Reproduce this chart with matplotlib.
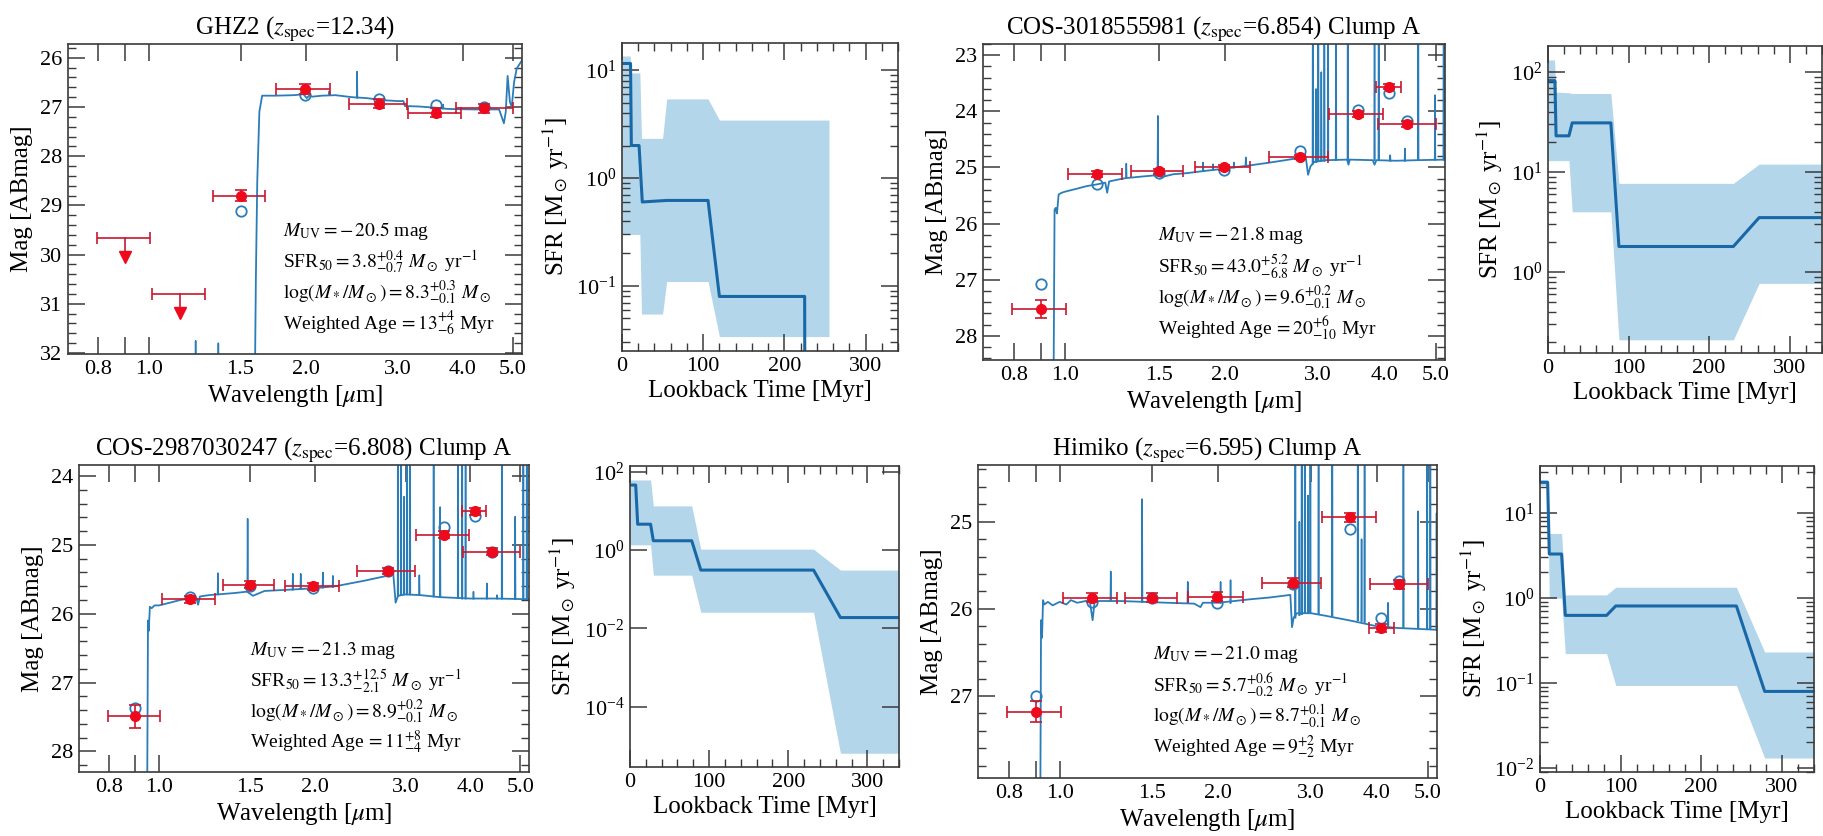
import numpy as np
import matplotlib
matplotlib.use('Agg')
import matplotlib.pyplot as plt
from matplotlib.ticker import FixedLocator, NullLocator, MultipleLocator, LogLocator, FixedFormatter, NullFormatter

plt.rcParams['font.family'] = ['Liberation Serif', 'DejaVu Serif']
plt.rcParams['mathtext.fontset'] = 'stix'
plt.rcParams['axes.edgecolor'] = '#3a3a3a'
plt.rcParams['axes.linewidth'] = 1.2

# ---------------- data ----------------
filt_wl = [0.90, 1.15, 1.50, 1.99, 2.77, 3.56, 4.08, 4.40]
filt_lo = [0.795, 1.013, 1.331, 1.755, 2.42, 3.14, 3.86, 3.88]
filt_hi = [1.005, 1.282, 1.668, 2.226, 3.13, 3.98, 4.30, 4.99]
sed_xticks = [0.8, 0.9, 1.0, 1.5, 2.0, 3.0, 4.0, 5.0]
sed_xticklabels = ['0.8', '', '1.0', '1.5', '2.0', '3.0', '4.0', '5.0']

# GHZ2
ghz2_title = r"GHZ2 ($z_{\rm spec}$=12.34)"
ghz2_obs = [29.67, 30.80, 28.80, 26.63, 26.93, 27.12, np.nan, 27.03]
ghz2_err = [0.0, 0.0, 0.12, 0.10, 0.09, 0.09, np.nan, 0.09]
ghz2_ulim = [1, 1, 0, 0, 0, 0, 0, 0]
ghz2_model = [np.nan, np.nan, 29.12, 26.76, 26.84, 26.95, np.nan, 27.00]
ghz2_cont_wl = [0.70, 1.595, 1.605, 1.615, 1.63, 1.65, 1.75, 1.90, 1.98, 2.01, 2.03, 2.06, 2.15, 2.28,
                2.45, 2.62, 2.80, 3.00, 3.08, 3.10, 3.30, 3.60, 3.75, 4.20, 4.70, 4.80, 4.84, 4.88,
                4.93, 4.97, 5.02, 5.08, 5.20]
ghz2_cont_mag = [33.5, 33.5, 30.5, 28.5, 27.1, 26.77, 26.77, 26.76, 26.74, 26.82, 26.77, 26.79, 26.77, 26.76,
                 26.80, 26.82, 26.86, 26.88, 26.88, 26.98, 26.99, 27.02, 27.04, 27.05, 27.05, 27.33, 27.1, 26.37,
                 26.9, 27.0, 26.5, 26.22, 26.05]
ghz2_line_wl = [1.23, 1.36, 2.22, 2.51, 3.67]
ghz2_line_peak = [31.75, 31.8, 26.68, 26.28, 26.95]
ghz2_line_base = [33.5, 33.5, 26.76, 26.81, 27.03]
ghz2_stats = [r"$M_{\rm UV}=-\,20.5$ mag",
              r"SFR$_{50}=3.8^{+0.4}_{-0.7}\ M_\odot$ yr$^{-1}$",
              r"$\log(M_*/M_\odot)=8.3^{+0.3}_{-0.1}\ M_\odot$",
              r"Weighted Age$\,=13^{+4}_{-6}$ Myr"]
ghz2_sfh_t = [0, 10.5, 11.5, 21, 25, 55, 106, 120, 225, 225.5]
ghz2_sfh_med = [11.5, 11.5, 2.0, 2.0, 0.6, 0.62, 0.62, 0.08, 0.08, 0.001]
ghz2_band_t = [0, 10, 11, 22, 24, 50, 55, 106, 120, 255]
ghz2_band_hi = [13.5, 13.5, 9.4, 9.4, 2.33, 2.33, 5.4, 5.4, 3.44, 3.44]
ghz2_band_lo = [0.3, 0.3, 0.3, 0.3, 0.055, 0.055, 0.11, 0.11, 0.034, 0.034]

# COS-3018555981
c30_title = r"COS-3018555981 ($z_{\rm spec}$=6.854) Clump A"
c30_obs = [27.52, 25.12, 25.07, 25.00, 24.81, 24.05, 23.56, 24.22]
c30_err = [0.16, 0.05, 0.04, 0.04, 0.04, 0.05, 0.05, 0.05]
c30_ulim = [0, 0, 0, 0, 0, 0, 0, 0]
c30_model = [27.08, 25.30, 25.10, 25.04, 24.70, 23.97, 23.68, 24.17]
c30_cont_wl = [0.70, 0.950, 0.955, 0.960, 0.965, 0.972, 0.985, 1.00, 1.05, 1.10, 1.15, 1.19, 1.20, 1.21,
               1.25, 1.30, 1.40, 1.48, 1.52, 1.60, 1.70, 1.80, 2.00, 2.20, 2.40, 2.60, 2.80, 2.84, 2.87,
               2.90, 2.95, 3.10, 3.40, 3.42, 3.44, 3.80, 3.83, 3.86, 4.20, 4.60, 5.20]
c30_cont_mag = [29.5, 29.5, 25.75, 25.72, 25.82, 25.48, 25.45, 25.43, 25.38, 25.33, 25.30, 25.27, 25.45, 25.25,
                25.22, 25.19, 25.16, 25.14, 25.17, 25.12, 25.10, 25.07, 25.02, 24.97, 24.92, 24.87, 24.82, 24.80, 25.13,
                24.98, 24.90, 24.87, 24.86, 24.95, 24.86, 24.87, 24.95, 24.87, 24.88, 24.87, 24.86]
c30_line_wl = [1.304, 1.495, 1.82, 1.90, 2.08, 2.19, 2.93, 2.97, 3.00, 3.04, 3.08, 3.13,
               3.24, 3.41, 3.83, 3.90, 4.10, 4.37, 4.63, 4.98, 5.17]
c30_line_peak = [24.93, 24.08, 24.91, 24.94, 24.91, 24.82, 20, 23.6, 20, 23.3, 20, 20,
                 20, 20, 20, 20, 24.78, 24.66, 20, 23.71, 20]
c30_line_base = [25.19, 25.14, 25.06, 25.04, 25.00, 24.97, 24.93, 24.90, 24.89, 24.88, 24.88, 24.87,
                 24.87, 24.87, 24.87, 24.87, 24.88, 24.88, 24.87, 24.86, 24.86]
c30_stats = [r"$M_{\rm UV}=-\,21.8$ mag",
             r"SFR$_{50}=43.0^{+5.2}_{-6.8}\ M_\odot$ yr$^{-1}$",
             r"$\log(M_*/M_\odot)=9.6^{+0.2}_{-0.1}\ M_\odot$",
             r"Weighted Age$\,=20^{+6}_{-10}$ Myr"]
c30_sfh_t = [0, 8.6, 10, 26, 30, 78, 88, 230, 262, 340]
c30_sfh_med = [82, 82, 23, 23, 31, 31, 1.8, 1.8, 3.5, 3.5]
c30_band_t = [0, 8, 10, 26, 30, 78, 88, 230, 262, 340]
c30_band_hi = [132, 132, 63, 62, 61, 61, 7.7, 7.7, 12, 12]
c30_band_lo = [13, 13, 13, 13, 4.0, 4.0, 0.21, 0.21, 0.77, 0.77]

# COS-2987030247
c29_title = r"COS-2987030247 ($z_{\rm spec}$=6.808) Clump A"
c29_obs = [27.49, 25.79, 25.58, 25.60, 25.38, 24.85, 24.51, 25.10]
c29_err = [0.17, 0.05, 0.05, 0.05, 0.05, 0.05, 0.05, 0.05]
c29_ulim = [0, 0, 0, 0, 0, 0, 0, 0]
c29_model = [27.37, 25.76, 25.60, 25.63, 25.38, 24.74, 24.58, 25.10]
c29_cont_wl = [0.70, 0.948, 0.952, 0.955, 0.960, 0.968, 0.98, 1.00, 1.05, 1.10, 1.15, 1.18, 1.19, 1.20,
               1.25, 1.40, 1.48, 1.52, 1.60, 1.80, 2.00, 2.20, 2.50, 2.80, 2.84, 2.87, 2.90, 3.00, 3.20,
               3.50, 4.00, 4.50, 5.20]
c29_cont_mag = [29.0, 29.0, 26.1, 26.25, 25.9, 25.92, 25.88, 25.88, 25.84, 25.80, 25.78, 25.76, 25.87, 25.75,
                25.73, 25.70, 25.68, 25.74, 25.67, 25.65, 25.63, 25.60, 25.52, 25.44, 25.42, 25.84, 25.74, 25.72, 25.73,
                25.76, 25.78, 25.78, 25.79]
c29_line_wl = [1.30, 1.484, 1.815, 1.88, 2.075, 2.17, 2.90, 2.94, 2.98, 3.02, 3.06, 3.19, 3.40,
               3.50, 3.79, 3.86, 3.92, 4.06, 4.31, 4.51, 4.61, 4.89, 5.07, 5.15]
c29_line_peak = [25.41, 24.62, 25.42, 25.42, 25.40, 25.45, 20, 20, 24.3, 20, 20, 25.44, 20,
                 24.45, 20, 20, 20, 25.68, 25.56, 25.73, 20, 24.59, 20, 20]
c29_line_base = [25.72, 25.68, 25.65, 25.64, 25.62, 25.61, 25.74, 25.73, 25.72, 25.72, 25.72, 25.73, 25.75,
                 25.76, 25.77, 25.78, 25.78, 25.78, 25.78, 25.78, 25.78, 25.79, 25.79, 25.79]
c29_stats = [r"$M_{\rm UV}=-\,21.3$ mag",
             r"SFR$_{50}=13.3^{+12.5}_{-2.1}\ M_\odot$ yr$^{-1}$",
             r"$\log(M_*/M_\odot)=8.9^{+0.2}_{-0.1}\ M_\odot$",
             r"Weighted Age$\,=11^{+8}_{-4}$ Myr"]
c29_sfh_t = [0, 7.2, 9.7, 26, 29.5, 78, 89.5, 232, 266, 340]
c29_sfh_med = [46, 46, 4.6, 4.6, 1.74, 1.74, 0.31, 0.31, 0.019, 0.019]
c29_band_t = [0, 7, 10, 26, 29.5, 78, 89.5, 232, 266, 340]
c29_band_hi = [62, 62, 62, 62, 13.5, 13.5, 1.06, 1.06, 0.31, 0.31]
c29_band_lo = [1.37, 1.37, 1.37, 1.37, 0.23, 0.23, 0.026, 0.026, 6.5e-6, 6.5e-6]

# Himiko
him_title = r"Himiko ($z_{\rm spec}$=6.595) Clump A"
him_obs = [27.18, 25.87, 25.87, 25.86, 25.70, 24.95, 26.22, 25.72]
him_err = [0.12, 0.05, 0.05, 0.05, 0.05, 0.05, 0.05, 0.05]
him_ulim = [0, 0, 0, 0, 0, 0, 0, 0]
him_model = [27.00, 25.92, 25.88, 25.93, 25.72, 25.08, 26.10, 25.68]
him_cont_wl = [0.70, 0.918, 0.922, 0.926, 0.930, 0.935, 0.95, 0.97, 1.00, 1.03, 1.05, 1.08, 1.10, 1.14,
               1.155, 1.165, 1.18, 1.30, 1.45, 1.60, 1.80, 1.85, 1.87, 1.90, 2.00, 2.30, 2.50, 2.74,
               2.76, 2.78, 2.82, 3.00, 3.20, 3.60, 4.00, 4.40, 5.20]
him_cont_mag = [29.0, 29.0, 26.13, 26.33, 25.90, 25.95, 25.92, 25.96, 25.92, 25.95, 25.90, 25.93, 25.92, 25.90,
                26.13, 25.92, 25.91, 25.91, 25.92, 25.93, 25.94, 25.98, 25.93, 25.93, 25.93, 25.89, 25.87, 25.84,
                26.21, 26.10, 26.05, 26.05, 26.08, 26.14, 26.20, 26.22, 26.24]
him_line_wl = [1.25, 1.434, 1.75, 2.02, 2.11, 2.80, 2.85, 2.88, 2.92, 2.96, 2.99, 3.10, 3.29,
               3.68, 3.74, 3.79, 4.20, 4.49, 4.79, 4.98, 5.05, 5.19]
him_line_peak = [25.57, 24.74, 25.69, 25.69, 25.67, 20, 25.0, 20, 20, 24.7, 20, 20, 20,
                 20, 25.2, 20, 25.93, 20, 24.88, 20, 20, 24.9]
him_line_base = [25.91, 25.92, 25.93, 25.93, 25.93, 26.10, 26.07, 26.06, 26.05, 26.05, 26.05, 26.06, 26.08,
                 26.13, 26.14, 26.15, 26.20, 26.21, 26.22, 26.23, 26.23, 26.24]
him_stats = [r"$M_{\rm UV}=-\,21.0$ mag",
             r"SFR$_{50}=5.7^{+0.6}_{-0.2}\ M_\odot$ yr$^{-1}$",
             r"$\log(M_*/M_\odot)=8.7^{+0.1}_{-0.1}\ M_\odot$",
             r"Weighted Age$\,=9^{+2}_{-2}$ Myr"]
him_sfh_t = [0, 9.5, 11.5, 26.8, 31.4, 82.6, 94, 243.7, 278.8, 340]
him_sfh_med = [22.8, 22.8, 3.27, 3.27, 0.62, 0.62, 0.80, 0.80, 0.079, 0.079]
him_band_t = [0, 9.5, 11.5, 26.8, 31.4, 82.6, 94, 243.7, 278.8, 340]
him_band_hi = [24.5, 24.5, 5.7, 5.7, 1.08, 1.08, 1.33, 1.33, 0.23, 0.23]
him_band_lo = [21, 21, 0.99, 0.99, 0.22, 0.22, 0.093, 0.093, 0.013, 0.013]

# ---------------- style ----------------
SPEC_C = '#2a7db8'
SFH_C = '#1868a8'
BAND_C = '#b3d6ea'
RED = '#ee0a1c'
ERR_C = '#c8182f'
TICK_C = '#3a3a3a'

W, H = 1823, 836
fig = plt.figure(figsize=(W / 100, H / 100), dpi=100)


def add_ax(L, T, R, B):
    return fig.add_axes([L / W, 1 - B / H, (R - L) / W, (B - T) / H])


def style_ticks(ax):
    ax.tick_params(which='both', direction='in', top=True, right=True, color=TICK_C,
                   labelsize=16, pad=4)
    ax.tick_params(which='major', length=12, width=1.1)
    ax.tick_params(which='minor', length=6, width=1.0)


def sed_panel(ax, title, obs, err, ulim, model, cwl, cmag, lwl, lpk, lbs, stats, ylim, sx):
    ax.set_xscale('log')
    ax.plot(cwl, cmag, color=SPEC_C, lw=1.3, zorder=2)
    xs, ys = [], []
    for w, p, b in zip(lwl, lpk, lbs):
        xs += [w * 0.9985, w, w * 1.0015, np.nan]
        ys += [b, p, b, np.nan]
    ax.plot(xs, ys, color=SPEC_C, lw=1.1, zorder=2)
    wl = np.array(filt_wl)
    lo = wl - np.array(filt_lo)
    hi = np.array(filt_hi) - wl
    obs = np.array(obs, float)
    err = np.array(err, float)
    ul = np.array(ulim, bool)
    det = ~ul & ~np.isnan(obs)
    ax.plot(wl, model, 'o', mfc='none', mec=SPEC_C, ms=7.5, mew=1.3, zorder=3)
    ax.errorbar(wl[det], obs[det], yerr=err[det], xerr=[lo[det], hi[det]], fmt='o', color=RED,
                ms=7, ecolor=ERR_C, elinewidth=1.2, capsize=4.5, capthick=1.2, zorder=4)
    if ul.any():
        ax.errorbar(wl[ul], obs[ul], xerr=[lo[ul], hi[ul]], fmt='none', ecolor=ERR_C,
                    elinewidth=1.2, capsize=4.5, capthick=1.2, zorder=4)
        for w, m in zip(wl[ul], obs[ul]):
            ax.plot([w, w], [m, m + 0.38], color=ERR_C, lw=1.2, zorder=4)
            ax.plot([w], [m + 0.38], marker='v', color=RED, ms=8, zorder=5)
    ax.set_xlim(0.70, 5.2)
    ax.set_ylim(*ylim)
    ax.xaxis.set_major_locator(FixedLocator(sed_xticks))
    ax.xaxis.set_major_formatter(FixedFormatter(sed_xticklabels))
    ax.xaxis.set_minor_locator(NullLocator())
    ax.yaxis.set_major_locator(MultipleLocator(1))
    ax.yaxis.set_minor_locator(MultipleLocator(0.2))
    style_ticks(ax)
    for i, t in enumerate(ax.xaxis.get_major_ticks()):
        if sed_xticks[i] in (1.5, 2.0, 3.0, 4.0):
            t.tick1line.set_visible(False)
    ax.set_xlabel(r"Wavelength [$\mu$m]", fontsize=18, labelpad=3)
    ax.set_ylabel("Mag [ABmag]", fontsize=18, labelpad=5)
    ax.set_title(title, fontsize=18, pad=5)
    for k, s in enumerate(stats):
        ax.text(sx, [0.397, 0.296, 0.196, 0.097][k], s, transform=ax.transAxes,
                fontsize=14, va='center', ha='left')


def sfh_panel(ax, t, med, bt, bhi, blo, ylim, yticks=None):
    ax.fill_between(bt, blo, bhi, color=BAND_C, lw=0, zorder=1)
    ax.plot(t, med, color=SFH_C, lw=2.2, zorder=2)
    ax.set_yscale('log')
    ax.set_xlim(0, 340)
    ax.set_ylim(*ylim)
    ax.xaxis.set_major_locator(MultipleLocator(100))
    ax.xaxis.set_minor_locator(MultipleLocator(20))
    if yticks is not None:
        ax.yaxis.set_major_locator(FixedLocator(yticks))
        ax.yaxis.set_minor_locator(NullLocator())
    else:
        ax.yaxis.set_major_locator(LogLocator(base=10, numticks=20))
        ax.yaxis.set_minor_locator(LogLocator(base=10, subs=np.arange(2, 10), numticks=20))
        ax.yaxis.set_minor_formatter(NullFormatter())
    style_ticks(ax)
    ax.set_xlabel("Lookback Time [Myr]", fontsize=18, labelpad=3)
    ax.set_ylabel(r"SFR [M$_\odot$ yr$^{-1}$]", fontsize=18, labelpad=4)


ax1 = add_ax(68, 44, 522, 354)
sed_panel(ax1, ghz2_title, ghz2_obs, ghz2_err, ghz2_ulim, ghz2_model, ghz2_cont_wl, ghz2_cont_mag,
          ghz2_line_wl, ghz2_line_peak, ghz2_line_base, ghz2_stats, (32.02, 25.72), 0.474)
ax2 = add_ax(622, 43, 898, 351)
sfh_panel(ax2, ghz2_sfh_t, ghz2_sfh_med, ghz2_band_t, ghz2_band_hi, ghz2_band_lo, (0.025, 17.8))

ax3 = add_ax(983, 44, 1445, 360)
sed_panel(ax3, c30_title, c30_obs, c30_err, c30_ulim, c30_model, c30_cont_wl, c30_cont_mag,
          c30_line_wl, c30_line_peak, c30_line_base, c30_stats, (28.43, 22.8), 0.379)
ax4 = add_ax(1548, 46, 1822, 353)
sfh_panel(ax4, c30_sfh_t, c30_sfh_med, c30_band_t, c30_band_hi, c30_band_lo, (0.155, 182))

ax5 = add_ax(79, 465, 529, 772)
sed_panel(ax5, c29_title, c29_obs, c29_err, c29_ulim, c29_model, c29_cont_wl, c29_cont_mag,
          c29_line_wl, c29_line_peak, c29_line_base, c29_stats, (28.3, 23.84), 0.38)
ax6 = add_ax(630, 466, 899, 767)
sfh_panel(ax6, c29_sfh_t, c29_sfh_med, c29_band_t, c29_band_hi, c29_band_lo, (2.9e-6, 141),
          yticks=[1e-4, 1e-2, 1e0, 1e2])

ax7 = add_ax(978, 465, 1437, 778)
sed_panel(ax7, him_title, him_obs, him_err, him_ulim, him_model, him_cont_wl, him_cont_mag,
          him_line_wl, him_line_peak, him_line_base, him_stats, (27.94, 24.35), 0.381)
ax8 = add_ax(1540, 466, 1814, 772)
sfh_panel(ax8, him_sfh_t, him_sfh_med, him_band_t, him_band_hi, him_band_lo, (0.0089, 35.5))

fig.savefig('out.png', dpi=100)
